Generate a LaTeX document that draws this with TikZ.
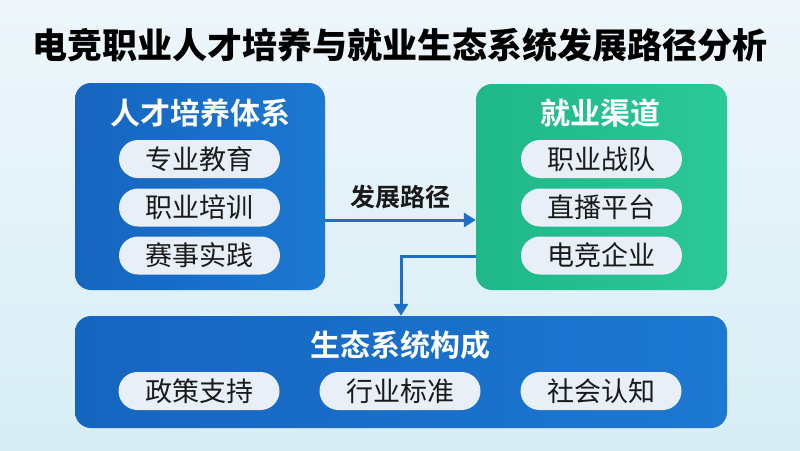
\documentclass[tikz,border=0pt]{standalone}
\usepackage{fontspec}
\setmainfont{Noto Sans CJK SC}
\newfontfamily\cjkb{Noto Sans CJK SC Bold}
\newfontfamily\cjkh{Noto Sans CJK SC Black}
\usetikzlibrary{arrows.meta}
\definecolor{bgtop}{HTML}{EEF6FB}
\definecolor{bgbot}{HTML}{D7EDF5}
\definecolor{bluebox}{HTML}{1565C0}
\definecolor{blueboxb}{HTML}{1C78D2}
\definecolor{greenbox}{HTML}{1FB888}
\definecolor{greenboxb}{HTML}{2BC898}
\definecolor{pillfill}{HTML}{E8EFF6}
\definecolor{arrowc}{HTML}{1E6FC8}
\definecolor{txt}{HTML}{1A1A1A}
\tikzset{
  panel/.style={rounded corners=16pt, minimum width=#1, inner sep=0pt},
  pill/.style={fill=pillfill, rounded corners=19pt, minimum width=161pt, minimum height=38pt, inner sep=0pt, text=txt, font=\fontsize{27}{27}\selectfont},
  paneltitle/.style={text=white, font=\cjkb\fontsize{30}{30}\selectfont, inner sep=0pt},
  arr/.style={draw=arrowc, line width=3pt, -{Triangle[width=14pt,length=12pt]}}
}
\begin{document}
\begin{tikzpicture}[x=1pt,y=-1pt]
\useasboundingbox (0,0) rectangle (800,450);
\fill[top color=bgtop, bottom color=bgbot] (0,0) rectangle (800,450);
\node[font=\cjkh\fontsize{35}{35}\selectfont, text=black, inner sep=0pt] (title) at (400,45) {电竞职业人才培养与就业生态系统发展路径分析};
% panels
\node[panel=250pt, minimum height=207pt, left color=bluebox, right color=blueboxb] (L) at (200,186.5) {};
\node[panel=251pt, minimum height=206pt, left color=greenbox, right color=greenboxb] (R) at (601.5,187) {};
\node[panel=652pt, minimum height=112pt, left color=bluebox, right color=blueboxb] (B) at (401,372) {};
% titles
\node[paneltitle] (Lt) at (200,113) {人才培养体系};
\node[paneltitle] (Rt) at (600,113) {就业渠道};
\node[paneltitle] (Bt) at (400,345) {生态系统构成};
% left pills
\node[pill] (L1) at (199.5,159) {专业教育};
\node[pill] (L2) at (199.5,207.5) {职业培训};
\node[pill] (L3) at (199.5,255.5) {赛事实践};
% right pills
\node[pill] (R1) at (601.5,159) {职业战队};
\node[pill] (R2) at (601.5,207.5) {直播平台};
\node[pill] (R3) at (601.5,255.5) {电竞企业};
% bottom pills
\node[pill] (B1) at (199,391) {政策支持};
\node[pill] (B2) at (400,391) {行业标准};
\node[pill] (B3) at (601,391) {社会认知};
% arrows
\draw[arr] ([yshift=-33.5pt]L.east) -- ([yshift=-33pt]R.west);
\node[font=\cjkb\fontsize{25}{25}\selectfont, text=txt, inner sep=0pt] (lab) at (400,197) {发展路径};
\draw[arr] ([yshift=-69pt]R.west) -| (B.north);
\end{tikzpicture}
\end{document}
